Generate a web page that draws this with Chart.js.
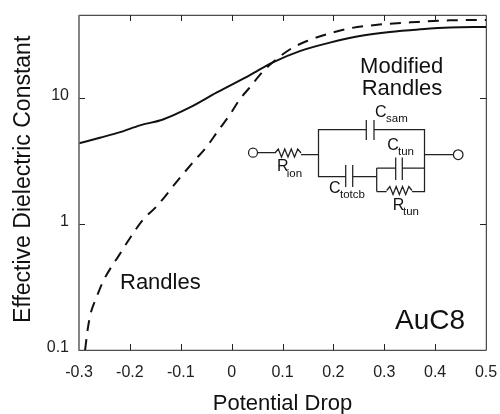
<!DOCTYPE html>
<html>
<head>
<meta charset="utf-8">
<style>
  html, body { margin: 0; padding: 0; background: #fff; }
  canvas { display: block; }
</style>
<script src="https://cdn.jsdelivr.net/npm/chart.js@4/dist/chart.umd.min.js"></script>
</head>
<body>
<canvas id="chart" width="500" height="414"></canvas>
<script>
// values
const modifiedX = [-0.3, -0.259, -0.219, -0.18, -0.135, -0.082, -0.029, 0.036, 0.081, 0.134, 0.193, 0.252, 0.311, 0.37, 0.429, 0.5];
const modifiedY = [4.34, 4.81, 5.33, 6.03, 6.72, 8.37, 11.0, 15.1, 19.05, 23.4, 27.3, 30.8, 33.2, 34.8, 36.0, 36.3];
const randlesX = [-0.288, -0.283, -0.277, -0.265, -0.253, -0.236, -0.223, -0.2, -0.174, -0.147, -0.107, -0.076, -0.048, -0.029, -0.003, 0.016, 0.036, 0.06, 0.081, 0.115, 0.148, 0.187, 0.233, 0.298, 0.364, 0.429, 0.5];
const randlesY = [0.1, 0.145, 0.195, 0.265, 0.348, 0.458, 0.55, 0.769, 1.08, 1.38, 2.18, 3.07, 4.13, 5.3, 7.37, 9.7, 12.1, 15.9, 19.05, 24.2, 28.1, 31.8, 35.5, 38.2, 39.8, 41.0, 41.3];
const xTicks = [-0.3, -0.2, -0.1, 0, 0.1, 0.2, 0.3, 0.4, 0.5];
const yTicks = [0.1, 1, 10];

const FONT = '"Liberation Sans", Arial, sans-serif';
const INK = '#222';

function toPoints(xs, ys){
  return xs.map((x, i) => ({ x: x, y: ys[i] }));
}

// frame with inward ticks on all four sides
const framePlugin = {
  id: 'frame',
  afterDatasetsDraw(chart){
    const { ctx, chartArea: a, scales } = chart;
    const len = 6;
    ctx.save();
    ctx.strokeStyle = INK;
    ctx.lineWidth = 1;
    ctx.beginPath();
    ctx.moveTo(a.left, a.top + 0.3);
    ctx.lineTo(a.right + 0.3, a.top + 0.3);
    ctx.lineTo(a.right + 0.3, a.bottom + 0.3);
    ctx.lineTo(a.left, a.bottom + 0.3);
    for (const v of xTicks.slice(1, -1)){
      const px = Math.round(scales.x.getPixelForValue(v)) + 0.5;
      ctx.moveTo(px, a.top);
      ctx.lineTo(px, a.top + len);
      ctx.moveTo(px, a.bottom);
      ctx.lineTo(px, a.bottom - len);
    }
    for (const v of yTicks.slice(1)){
      const py = Math.round(scales.y.getPixelForValue(v)) + 0.5;
      ctx.moveTo(a.left, py);
      ctx.lineTo(a.left + len, py);
      ctx.moveTo(a.right, py);
      ctx.lineTo(a.right - len, py);
    }
    ctx.stroke();
    ctx.strokeStyle = '#666';
    ctx.lineWidth = 1.6;
    ctx.beginPath();
    ctx.moveTo(a.left, a.top);
    ctx.lineTo(a.left, a.bottom + 1);
    ctx.stroke();
    ctx.restore();
  }
};

function zigzag(ctx, x0, x1, y){
  const n = 8, step = (x1 - x0) / n;
  ctx.moveTo(x0, y);
  for (let i = 1; i < n; i++){
    ctx.lineTo(x0 + step * i, y + (i % 2 ? -4 : 4));
  }
  ctx.lineTo(x1, y);
}

// inset circuit and the text notes
const notesPlugin = {
  id: 'notes',
  afterDraw(chart){
    const ctx = chart.ctx;
    ctx.save();
    ctx.strokeStyle = '#222';
    ctx.lineWidth = 1.25;
    ctx.beginPath();
    // input lead and R ion
    ctx.moveTo(257.5, 152.7); ctx.lineTo(275, 152.7);
    zigzag(ctx, 275, 301, 153);
    ctx.moveTo(301, 154.5); ctx.lineTo(318.5, 154.5);
    // outer loop, C sam
    ctx.moveTo(366.3, 129.5); ctx.lineTo(318.5, 129.5); ctx.lineTo(318.5, 176.5); ctx.lineTo(345.7, 176.5);
    ctx.moveTo(374, 129.5); ctx.lineTo(424.5, 129.5); ctx.lineTo(424.5, 191.5); ctx.lineTo(412, 191.5);
    ctx.moveTo(366.3, 120); ctx.lineTo(366.3, 140);
    ctx.moveTo(374, 120); ctx.lineTo(374, 140);
    // C totcb
    ctx.moveTo(345.7, 165); ctx.lineTo(345.7, 187);
    ctx.moveTo(352.7, 165); ctx.lineTo(352.7, 187);
    ctx.moveTo(352.7, 176.5); ctx.lineTo(376.7, 176.5);
    // C tun and R tun
    ctx.moveTo(376.7, 168); ctx.lineTo(376.7, 191.5);
    ctx.moveTo(376.7, 168); ctx.lineTo(395.7, 168);
    ctx.moveTo(402.3, 168); ctx.lineTo(424.5, 168);
    ctx.moveTo(395.7, 157.5); ctx.lineTo(395.7, 180);
    ctx.moveTo(402.3, 157.5); ctx.lineTo(402.3, 180);
    ctx.moveTo(376.7, 191.5); ctx.lineTo(386.7, 191.5);
    zigzag(ctx, 386.7, 412, 190.5);
    // output lead
    ctx.moveTo(424.5, 154.7); ctx.lineTo(453.5, 154.7);
    ctx.stroke();
    ctx.beginPath();
    ctx.arc(253, 152.7, 4.5, 0, Math.PI * 2);
    ctx.moveTo(463, 154.7);
    ctx.arc(458.2, 154.7, 4.8, 0, Math.PI * 2);
    ctx.stroke();

    ctx.fillStyle = '#111';
    ctx.textBaseline = 'alphabetic';
    const big = (txt, x, y, size) => {
      ctx.font = size + 'px ' + FONT;
      ctx.fillText(txt, x, y);
    };
    ctx.textAlign = 'center';
    big('Modified', 401.7, 72.7, 22);
    big('Randles', 402, 95, 22);
    ctx.textAlign = 'left';
    big('Randles', 120, 288.7, 22);
    big('AuC8', 395, 328.7, 28);
    // circuit labels
    big('C', 375, 117, 16); big('sam', 386, 121.7, 11.5);
    big('R', 277, 171, 16); big('ion', 286.7, 176.7, 11.5);
    big('C', 387.3, 150, 16); big('tun', 398, 155, 11.5);
    big('C', 329, 192.7, 16); big('totcb', 340, 198, 11.5);
    big('R', 392.7, 210, 16); big('tun', 403, 215, 11.5);
    ctx.restore();
  }
};

new Chart(document.getElementById('chart'), {
  type: 'line',
  data: {
    datasets: [
      {
        label: 'Modified Randles',
        data: toPoints(modifiedX, modifiedY),
        borderColor: '#111',
        borderWidth: 2,
        pointRadius: 0,
        cubicInterpolationMode: 'monotone'
      },
      {
        label: 'Randles',
        data: toPoints(randlesX, randlesY),
        borderColor: '#111',
        borderWidth: 2,
        borderDash: [11, 8],
        pointRadius: 0,
        cubicInterpolationMode: 'monotone'
      }
    ]
  },
  options: {
    responsive: false,
    animation: false,
    layout: { padding: { top: 15, right: 14, left: 0, bottom: 0 } },
    plugins: { legend: { display: false }, tooltip: { enabled: false } },
    scales: {
      x: {
        type: 'linear',
        min: -0.3,
        max: 0.5,
        afterBuildTicks(scale){ scale.ticks = xTicks.map(v => ({ value: v })); },
        afterFit(scale){ scale.height = 64; scale.paddingLeft = 0; scale.paddingRight = 0; },
        grid: { display: false, drawTicks: false },
        border: { display: false },
        ticks: {
          autoSkip: false,
          maxRotation: 0,
          padding: 13,
          color: '#222',
          font: { family: FONT, size: 16 },
          callback: v => String(v)
        },
        title: {
          display: true,
          text: 'Potential Drop',
          color: '#111',
          font: { family: FONT, size: 22, lineHeight: 0.9 },
          padding: { top: 8, bottom: 0 }
        }
      },
      y: {
        type: 'logarithmic',
        min: 0.1,
        max: 45.2,
        afterBuildTicks(scale){ scale.ticks = yTicks.map(v => ({ value: v })); },
        afterFit(scale){ scale.width = 79; scale.paddingTop = 0; scale.paddingBottom = 0; },
        grid: { display: false, drawTicks: false },
        border: { display: false },
        ticks: {
          autoSkip: false,
          padding: 10,
          color: '#222',
          // empty second line lifts the label a little above its tick, as in the original
          font: { family: FONT, size: 16, lineHeight: 0.3 },
          callback: v => [String(v), '']
        },
        title: {
          display: true,
          text: ' Effective Dielectric Constant',
          color: '#111',
          font: { family: FONT, size: 23 },
          padding: { top: 10, bottom: 0 }
        }
      }
    }
  },
  plugins: [framePlugin, notesPlugin]
});
</script>
</body>
</html>
